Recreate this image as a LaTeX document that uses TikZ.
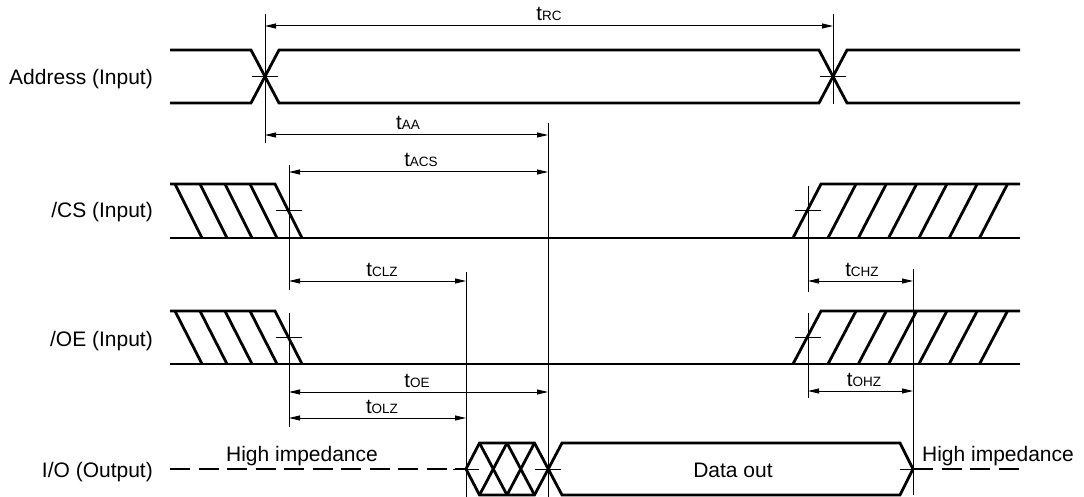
\documentclass[tikz,border=0pt]{standalone}
\usepackage{fontspec}
\setmainfont{Liberation Sans}
\usetikzlibrary{arrows.meta}
\newcommand\tsub[1]{t{\fontsize{13.5}{15}\selectfont #1}}
\tikzset{
  sig/.style={line width=2.8pt},
  hiz/.style={line width=2.8pt, dash pattern=on 20pt off 8.5pt},
  guide/.style={line width=1pt},
  tickmark/.style={line width=1pt},
  dimline/.style={line width=1pt, {Triangle[length=11pt,width=5pt]}-{Triangle[length=11pt,width=5pt]}},
  lbl/.style={font=\fontsize{21}{24}\selectfont, inner sep=0pt},
  tlbl/.style={font=\fontsize{20.5}{24}\selectfont, inner sep=0pt, anchor=base},
}
\begin{document}
\begin{tikzpicture}[x=1pt,y=-1pt]
\useasboundingbox (0,0) rectangle (1084,497);

% ---------- signal names ----------
\node[lbl, anchor=base east] (naddr) at (153,85) {Address (Input)};
\node[lbl, anchor=base east] (ncs)   at (153,218) {/CS (Input)};
\node[lbl, anchor=base east] (noe)   at (153,346) {/OE (Input)};
\node[lbl, anchor=base east] (nio)   at (153,477) {I/O (Output)};

% ---------- Address ----------
\draw[sig] (170,50) -- (251,50) -- (279,103) -- (819,103) -- (847,50) -- (1020,50);
\draw[sig] (170,103) -- (251,103) -- (279,50) -- (819,50) -- (847,103) -- (1020,103);
\draw[tickmark] (252,76.5) -- (278,76.5);
\draw[tickmark] (820,76.5) -- (846,76.5);

% ---------- /CS ----------
\draw[sig] (170,238) -- (1020,238);
\draw[sig] (170,184) -- (275,184) -- (302,238);
\foreach \x in {175,200,225,250} \draw[sig] (\x,184) -- (\x+27,238);
\draw[sig] (793,238) -- (821,184) -- (1020,184);
\foreach \x in {828,858.3,888.6,918.9,949.2,979.5} \draw[sig] (\x,238) -- (\x+28,184);
\draw[tickmark] (276,211) -- (302,211);
\draw[tickmark] (795,211) -- (821,211);

% ---------- /OE ----------
\draw[sig] (170,364) -- (1020,364);
\draw[sig] (170,311) -- (275,311) -- (302,364);
\foreach \x in {175,200,225,250} \draw[sig] (\x,311) -- (\x+27,364);
\draw[sig] (793,364) -- (821,311) -- (1020,311);
\foreach \x in {828,858.3,888.6,918.9,949.2,979.5} \draw[sig] (\x,364) -- (\x+28,311);
\draw[tickmark] (276,337.5) -- (302,337.5);
\draw[tickmark] (795,337.5) -- (821,337.5);

% ---------- I/O ----------
\draw[hiz] (170,469) -- (466,469);
\draw[hiz] (913,469) -- (1020,469);
\draw[sig] (466,469) -- (479.5,443) -- (534.5,443) -- (562,495) -- (900,495) -- (913,469);
\draw[sig] (466,469) -- (479.5,495) -- (534.5,495) -- (562,443) -- (900,443) -- (913,469);
\draw[sig] (479.5,443) -- (507,495);
\draw[sig] (507,443) -- (534.5,495);
\draw[sig] (479.5,495) -- (507,443);
\draw[sig] (507,495) -- (534.5,443);
\draw[tickmark] (453,469) -- (479,469);
\draw[tickmark] (535,469) -- (561,469);
\draw[tickmark] (900,469) -- (926,469);
\node[lbl, anchor=base] (hiz1) at (302,461) {High impedance};
\node[lbl, anchor=base] (hiz2) at (998,461) {High impedance};
\node[lbl, anchor=base] (dout) at (733,477) {Data out};

% ---------- reference verticals ----------
\coordinate (a1t) at (265,14);  \coordinate (a1b) at (265,143);
\coordinate (a2t) at (833,14);  \coordinate (a2b) at (833,104);
\coordinate (mdt) at (548,123); \coordinate (mdb) at (548,497);
\coordinate (c1t) at (289,165); \coordinate (c1b) at (289,290);
\coordinate (o1t) at (289,313); \coordinate (o1b) at (289,427);
\coordinate (lzt) at (466,272); \coordinate (lzb) at (466,497);
\coordinate (c2t) at (808,186); \coordinate (c2b) at (808,292);
\coordinate (o2t) at (808,313); \coordinate (o2b) at (808,398);
\coordinate (hzt) at (913,269); \coordinate (hzb) at (913,495);
\foreach \p in {a1,a2,md,c1,o1,lz,c2,o2,hz} \draw[guide] (\p t) -- (\p b);

% ---------- dimension arrows ----------
\coordinate (rcL) at (265,26);   \coordinate (rcR) at (833,26);
\coordinate (aaL) at (265,135);  \coordinate (aaR) at (548,135);
\coordinate (acsL) at (289,172); \coordinate (acsR) at (548,172);
\coordinate (clzL) at (289,281); \coordinate (clzR) at (466,281);
\coordinate (chzL) at (808,281); \coordinate (chzR) at (913,281);
\coordinate (oeL) at (289,392);  \coordinate (oeR) at (548,392);
\coordinate (olzL) at (289,418); \coordinate (olzR) at (466,418);
\coordinate (ohzL) at (808,391); \coordinate (ohzR) at (913,391);
\foreach \p in {rc,aa,acs,clz,chz,oe,olz,ohz} \draw[dimline] (\p L) -- (\p R);

\node[tlbl] (trc)  at (549,21)  {\tsub{RC}};
\node[tlbl] (taa)  at (408,130) {\tsub{AA}};
\node[tlbl] (tacs) at (421,167) {\tsub{ACS}};
\node[tlbl] (tclz) at (382,276) {\tsub{CLZ}};
\node[tlbl] (tchz) at (862,276) {\tsub{CHZ}};
\node[tlbl] (toe)  at (417,387) {\tsub{OE}};
\node[tlbl] (tolz) at (382,413) {\tsub{OLZ}};
\node[tlbl] (tohz) at (864,386) {\tsub{OHZ}};
\end{tikzpicture}
\end{document}
